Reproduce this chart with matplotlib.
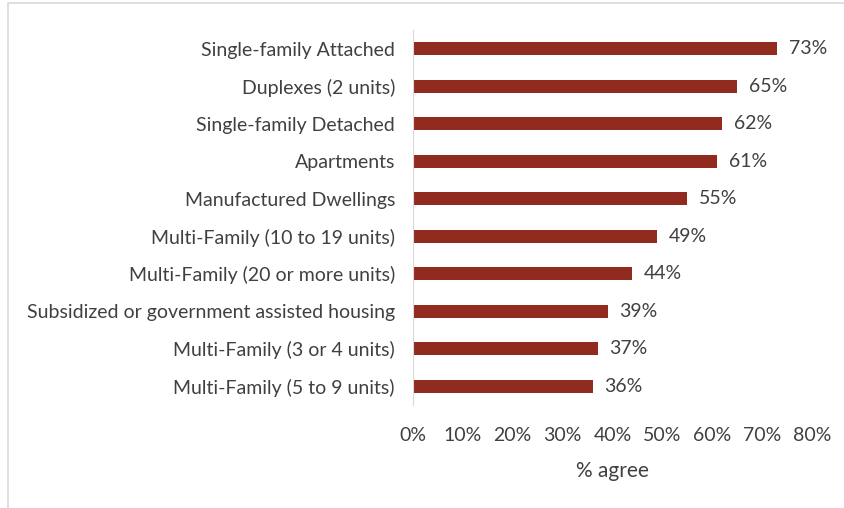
import matplotlib.pyplot as plt
from matplotlib.patches import Rectangle

categories = ['Single-family Attached', 'Duplexes (2 units)', 'Single-family Detached',
              'Apartments', 'Manufactured Dwellings', 'Multi-Family (10 to 19 units)',
              'Multi-Family (20 or more units)', 'Subsidized or government assisted housing',
              'Multi-Family (3 or 4 units)', 'Multi-Family (5 to 9 units)']
values = [73, 65, 62, 61, 55, 49, 44, 39, 37, 36]
ticks = [0, 10, 20, 30, 40, 50, 60, 70, 80]

plt.rcParams['font.family'] = ['Lato', 'DejaVu Sans']
text_color = '#404040'
fs = 14

fig = plt.figure(figsize=(8.44, 5.08), dpi=100)
# light chart border
fig.patches.append(Rectangle((8 / 844, -0.01), 1.0, 1 - 3 / 508 + 0.01, transform=fig.transFigure,
                             fill=False, edgecolor='#d9d9d9', linewidth=1.2))
ax = fig.add_axes([413 / 844, 1 - 405 / 508, (812 - 413) / 844, 375 / 508])

pos = list(range(len(categories)))
ax.barh(pos, values, height=0.34, color='#922b1f')
ax.set_ylim(len(categories) - 0.5, -0.5)
ax.set_xlim(0, 80)
ax.set_yticks(pos)
ax.set_yticklabels(categories, fontsize=fs, color=text_color)
ax.set_xticks(ticks)
ax.set_xticklabels([f'{t}%' for t in ticks], fontsize=fs, color=text_color)
ax.tick_params(length=0)
ax.tick_params(axis='y', pad=13)
ax.tick_params(axis='x', pad=16)
for s in ['top', 'right', 'bottom']:
    ax.spines[s].set_visible(False)
ax.spines['left'].set_color('#d9d9d9')
for p, v in zip(pos, values):
    ax.text(v + 2.3, p, f'{v}%', va='center', ha='left', fontsize=fs, color=text_color)
ax.set_xlabel('% agree', fontsize=fs + 1, color=text_color, labelpad=12)

fig.savefig('out.png', dpi=100)
